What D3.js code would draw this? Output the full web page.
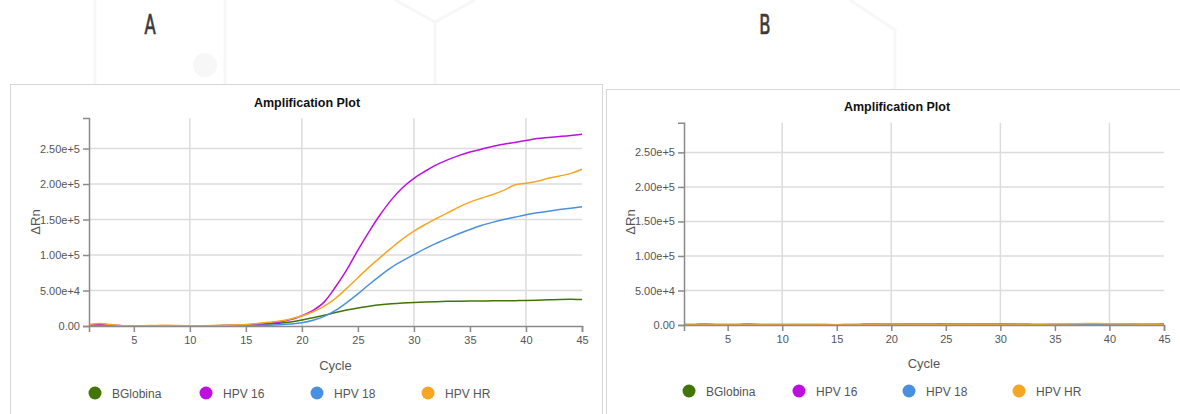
<!DOCTYPE html>
<html><head><meta charset="utf-8">
<script src="https://cdn.jsdelivr.net/npm/d3@7"></script>
<style>
body{margin:0;background:#fff;}
svg{display:block;font-family:"Liberation Sans",Arial,sans-serif;}
</style></head>
<body><svg id="c" width="1180" height="414"></svg>
<script>
const cycles = d3.range(1, 46);
const seriesNames = ["BGlobina", "HPV 16", "HPV 18", "HPV HR"];
const seriesColors = ["#417505", "#BD10E0", "#4A90E2", "#F5A623"];
const yTicks = [0, 50000, 100000, 150000, 200000, 250000];
const xTicks = [5, 10, 15, 20, 25, 30, 35, 40, 45];
const xGrid = [10, 20, 30, 40];
const panelLabels = ["A", "B"];

// Panel A
const aBGlobina = [500,800,300,0,200,300,400,500,300,200,300,400,600,900,1300,2000,2800,3800,5500,8500,11500,15000,19000,22500,25500,27800,29800,31300,32400,33200,33800,34300,34700,35000,35200,35300,35400,35600,35700,35900,36300,36900,37500,37700,37300];
const aHPV16 = [1500,2500,1500,300,0,200,300,400,300,100,200,400,600,800,1200,2000,3500,5500,9000,14500,22000,34000,55000,79000,107000,133000,157000,178000,195000,208000,218000,227000,234000,240000,245000,249000,253000,256000,258500,261300,264000,265600,267000,268500,270300];
const aHPV18 = [300,500,200,0,100,200,200,300,200,100,200,300,400,500,700,900,1200,1800,2800,4500,8000,13500,22000,33000,45300,58500,71000,82500,92000,100500,109000,116500,123500,130000,136000,141500,146000,150000,153300,156600,159400,161800,164000,166000,168000];
const aHPVHR = [2000,3500,2000,500,300,500,800,1200,600,300,400,600,900,1400,2200,3500,5200,7000,10000,14000,20000,28000,39000,53000,68000,83000,96700,110000,122600,133500,143000,151400,159400,167500,174500,180000,185000,191000,198600,201000,204000,208000,211300,215000,220800];

// Panel B
const bBGlobina = [800,900,1000,900,800,900,1000,900,800,700,800,900,800,600,500,700,900,1000,1100,1200,1000,900,800,900,1000,1100,1200,1100,1000,1100,1200,1100,900,800,700,800,900,1000,1100,1200,1100,1000,900,800,700];
const bHPV16 = [400,500,600,500,400,500,600,500,400,300,400,500,400,300,200,300,500,600,700,800,900,1000,1100,1000,900,800,700,600,700,800,700,600,500,400,500,600,700,800,700,600,500,600,700,900,1300];
const bHPV18 = [300,400,500,400,300,400,500,400,300,200,300,400,300,200,100,200,300,400,500,600,500,400,300,400,500,600,500,400,500,600,500,400,300,200,300,400,500,600,500,400,300,400,500,600,500];
const bHPVHR = [600,700,800,700,600,700,800,700,600,500,600,700,600,400,300,500,700,900,1200,1300,1100,900,700,600,700,800,700,600,700,800,900,1000,1100,1200,1400,1600,1800,2000,2100,1900,1600,1300,1100,1000,900];

const panels = [
  {data:[aBGlobina,aHPV16,aHPV18,aHPVHR], box:[10.5,84.5,592,340], x0:89, x1:582, y0:326, yTop:118,
   title:[307,107], letter:[150,34], ylab:[40,222], legX:[95,206,317,428], legY:393, cycleY:370},
  {data:[bBGlobina,bHPV16,bHPV18,bHPVHR], box:[606.5,89.5,580,340], x0:684, x1:1164, y0:325, yTop:122.7,
   title:[897,111], letter:[765,34], ylab:[635,222], legX:[689,799,909,1019], legY:391, cycleY:368}
];

const svg = d3.select("#c");

// faint background decoration
const deco = svg.append("g").attr("stroke","#f7f7f7").attr("stroke-width",3).attr("fill","none");
deco.append("path").attr("d","M395,0 L435,22 L475,0 M435,22 L435,84");
deco.append("path").attr("d","M850,0 L895,30 L895,89");
deco.append("path").attr("d","M95,0 L95,84 M225,0 L225,84");
deco.append("circle").attr("cx",205).attr("cy",65).attr("r",12).attr("fill","#f7f7f7").attr("stroke","none");

panels.forEach((p, pi) => {
  const g = svg.append("g");
  g.append("rect").attr("x",p.box[0]).attr("y",p.box[1]).attr("width",p.box[2]).attr("height",p.box[3])
    .attr("fill","#fff").attr("stroke","#d6d6d6").attr("stroke-width",1);

  g.append("text").attr("x",p.letter[0]).attr("y",p.letter[1])
    .attr("text-anchor","middle").attr("font-size",26).attr("fill","#3a3a3a")
    .attr("stroke","#3a3a3a").attr("stroke-width",0.7)
    .attr("transform",`translate(${p.letter[0]},0) scale(0.7,1) translate(${-p.letter[0]},0)`)
    .attr("font-family","'DejaVu Sans Condensed','Liberation Sans',sans-serif")
    .text(panelLabels[pi]);

  const x = d3.scaleLinear().domain([1,45]).range([p.x0,p.x1]);
  const y = d3.scaleLinear().domain([0,293000]).range([p.y0,p.yTop]);

  // grid
  g.append("g").selectAll("line").data(yTicks.slice(1)).join("line")
    .attr("x1",p.x0).attr("x2",p.x1).attr("y1",d=>y(d)).attr("y2",d=>y(d))
    .attr("stroke","#dcdcdc").attr("stroke-width",1.5);
  g.append("g").selectAll("line").data(xGrid).join("line")
    .attr("x1",d=>x(d)).attr("x2",d=>x(d)).attr("y1",p.yTop).attr("y2",p.y0)
    .attr("stroke","#dcdcdc").attr("stroke-width",1.5);

  g.append("text").attr("x",p.title[0]).attr("y",p.title[1]).attr("text-anchor","middle")
    .attr("font-size",12.5).attr("font-weight","bold").attr("fill","#111").text("Amplification Plot");

  // lines
  const line = d3.line().x((d,i)=>x(cycles[i])).y(d=>y(d)).curve(d3.curveMonotoneX);
  p.data.forEach((s, si) => {
    g.append("path").datum(s).attr("d",line).attr("fill","none")
      .attr("stroke",seriesColors[si]).attr("stroke-width",1.5);
  });

  // axes
  const xa = g.append("g").attr("transform",`translate(0,${p.y0})`)
    .call(d3.axisBottom(x).tickValues(xTicks).tickSize(6).tickSizeOuter(6).tickPadding(4));
  const ya = g.append("g").attr("transform",`translate(${p.x0},0)`)
    .call(d3.axisLeft(y).tickValues(yTicks).tickSize(6).tickSizeOuter(6).tickPadding(3)
      .tickFormat(d => d === 0 ? "0.00" : d3.format(".2e")(d)));
  [xa, ya].forEach(a => {
    a.selectAll("path, line").attr("stroke","#8a8a8a").attr("stroke-width",1.5);
    a.selectAll("text").attr("fill","#555").attr("font-size",11)
      .attr("font-family","'Liberation Sans',Arial,sans-serif");
  });

  g.append("text").attr("transform",`translate(${p.ylab[0]},${p.ylab[1]}) rotate(-90)`)
    .attr("text-anchor","middle").attr("font-size",13).attr("fill","#555").text("ΔRn");

  g.append("text").attr("x",(p.x0+p.x1)/2).attr("y",p.cycleY).attr("text-anchor","middle")
    .attr("font-size",13).attr("fill","#555").text("Cycle");

  const leg = g.append("g");
  seriesNames.forEach((n, si) => {
    leg.append("circle").attr("cx",p.legX[si]).attr("cy",p.legY).attr("r",6.5).attr("fill",seriesColors[si]);
    leg.append("text").attr("x",p.legX[si]+17).attr("y",p.legY+4.5).attr("font-size",12)
      .attr("fill","#555").text(n);
  });
});
</script></body></html>
